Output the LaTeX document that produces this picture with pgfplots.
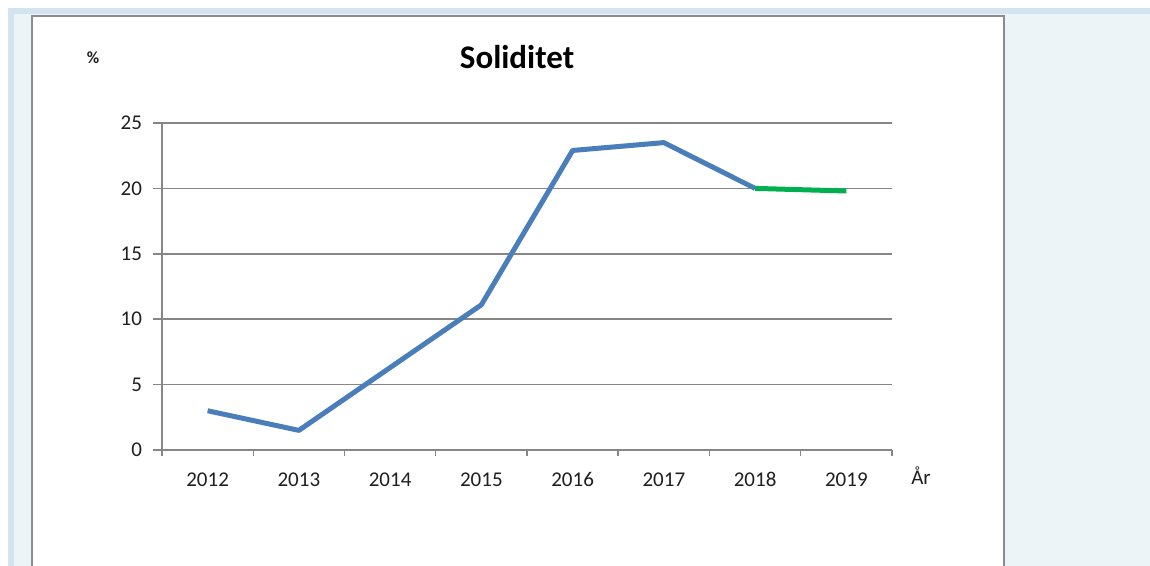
\documentclass[border=0pt]{standalone}
\usepackage{fontspec}
\setmainfont{Carlito}
\usepackage{pgfplots}
\pgfplotsset{compat=1.18}

\definecolor{xlblue}{HTML}{4A7EBB}
\definecolor{xlgreen}{HTML}{00B050}
\definecolor{gridgray}{HTML}{868686}
\definecolor{bandblue}{HTML}{D2E4EF}
\definecolor{paneblue}{HTML}{EDF4F8}
\definecolor{framegray}{HTML}{8C8C8C}
\definecolor{txt}{HTML}{1F1F1F}

\begin{document}
\begin{tikzpicture}[x=0.5pt,y=0.5pt]
\useasboundingbox (0,0) rectangle (1150,566);
% page background (screenshot surroundings)
\fill[white] (0,0) rectangle (1150,566);
\fill[bandblue] (8,0) rectangle (1150,558);
\fill[paneblue] (14,0) rectangle (1150,552);
% chart frame
\fill[white] (32,-5) rectangle (1004,550);
\draw[framegray, line width=1pt] (32,-5) -- (32,550) -- (1004,550) -- (1004,-5);

\coordinate (plotsw) at (162,116);
\begin{axis}[
  at={(plotsw)}, anchor=south west,
  scale only axis,
  width=365pt, height=163.5pt,
  xmin=-0.5, xmax=7.5,
  ymin=0, ymax=25,
  axis lines*=left,
  axis line style={gridgray, line width=0.75pt},
  tick align=outside,
  major tick length=4.5pt,
  minor tick length=3pt,
  tick style={gridgray, line width=0.75pt},
  xtick={0,1,...,7},
  xticklabels={2012,2013,2014,2015,2016,2017,2018,2019},
  minor xtick={-0.5,0.5,...,7.5},
  major x tick style={draw=none},
  ytick={0,5,...,25},
  ymajorgrids,
  grid style={gridgray, line width=0.75pt},
  ticklabel style={font=\fontsize{10.5}{12}\selectfont, text=txt},
  xticklabel style={anchor=base, yshift=-14pt},
  yticklabel style={xshift=-2pt},
  /pgf/number format/assume math mode=true,
  clip=false,
]
\addplot[xlblue, line width=2.5pt, line join=round] coordinates {
  (0,3.0) (1,1.5) (2,6.3) (3,11.1) (4,22.9) (5,23.5) (6,20.0)
};
\addplot[xlgreen, line width=2.5pt] coordinates {
  (6,20.0) (7,19.8)
};
\end{axis}

\node[font=\bfseries\fontsize{16.5}{19}\selectfont, text=black] at (517,509) {Soliditet};
\node[font=\bfseries\fontsize{8.5}{10}\selectfont, text=txt] at (93,508) {\%};
\node[font=\fontsize{10.5}{12}\selectfont, text=txt, anchor=base] at (921,81) {År};
\end{tikzpicture}
\end{document}
